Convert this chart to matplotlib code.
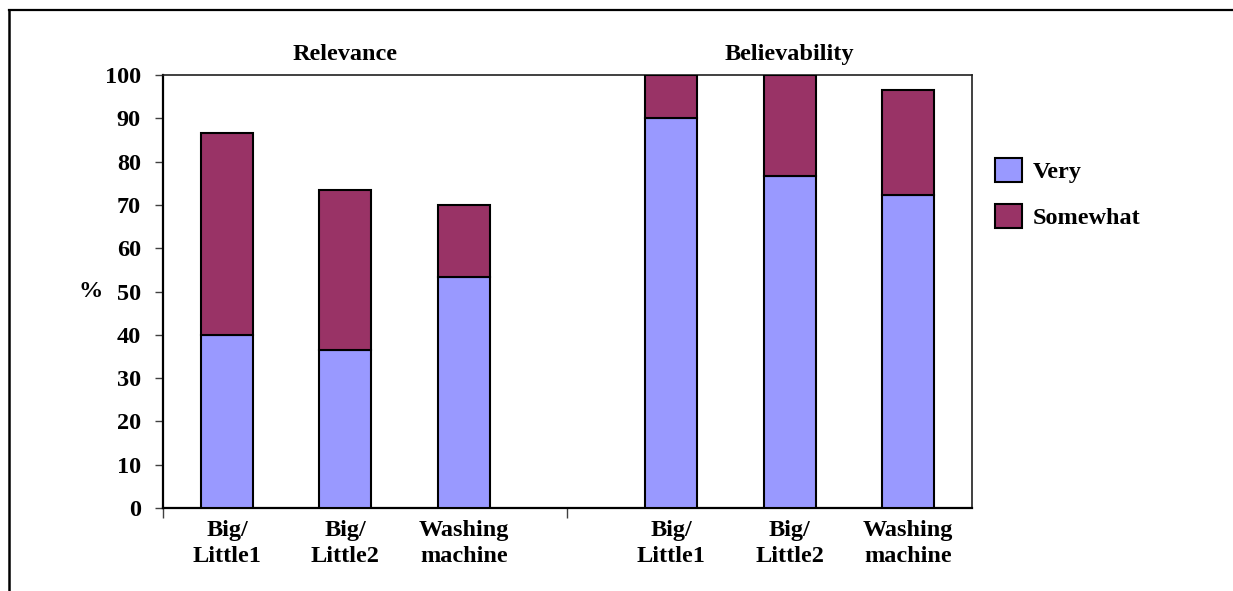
import matplotlib.pyplot as plt
from matplotlib.lines import Line2D
from matplotlib.patches import Patch
import numpy as np

# survey results, % of respondents
groups = ["Relevance", "Believability"]
products = ["Big/\nLittle1", "Big/\nLittle2", "Washing\nmachine"]
very = [[40.0, 36.5, 53.3], [90.0, 76.7, 72.3]]
somewhat = [[46.5, 37.0, 16.7], [10.0, 23.3, 24.2]]

col_very = "#9999FF"
col_some = "#993366"
fs = 17.5

plt.rcParams["font.family"] = ["Liberation Serif", "DejaVu Serif"]
plt.rcParams["font.weight"] = "bold"

fig = plt.figure(figsize=(12.33, 5.91), dpi=100)
ax = fig.add_axes([0.1322, 0.1404, 0.6561, 0.7327])

# bar layout: 1 unit between bars, wider gap between the two groups
gap = 1.75
edge = 0.54
width = 0.44
centers = []
for g in range(len(groups)):
    start = edge + g * (len(products) - 1 + gap)
    centers.append(start + np.arange(len(products)))

for g in range(len(groups)):
    x = centers[g]
    ax.bar(x, very[g], width, color=col_very, edgecolor="black", linewidth=1.5, zorder=3)
    ax.bar(x, somewhat[g], width, bottom=very[g], color=col_some,
           edgecolor="black", linewidth=1.5, zorder=3)
    ax.text(x[1], 102.3, groups[g], ha="center", va="bottom", fontsize=fs,
            fontweight="bold")

xmax = centers[-1][-1] + edge
ax.set_xlim(0, xmax)
ax.set_ylim(0, 100)

ax.set_yticks(np.arange(0, 101, 10))
ax.tick_params(axis="y", direction="out", length=6, width=1, color="#404040",
               labelsize=fs, pad=10)
for lab in ax.get_yticklabels():
    lab.set_fontweight("bold")

mid = (centers[0][-1] + centers[1][0]) / 2
ax.set_xticks([0, mid])
ax.set_xticklabels(["", ""])
ax.tick_params(axis="x", which="major", direction="out", length=7, width=1, color="#404040")
ax.set_xticks(np.concatenate(centers), minor=True)
ax.set_xticklabels(products * 2, minor=True, fontsize=fs, fontweight="bold",
                   linespacing=1.35)
ax.tick_params(axis="x", which="minor", length=0, pad=8.5)

for s in ["left", "bottom"]:
    ax.spines[s].set_linewidth(1.6)
for s in ["top", "right"]:
    ax.spines[s].set_linewidth(1.2)
    ax.spines[s].set_color("#202020")

ax.set_ylabel("%", rotation=0, fontsize=fs, fontweight="bold", labelpad=10, va="center")

handles = [Patch(facecolor=col_very, edgecolor="black", linewidth=1.5, label="Very"),
           Patch(facecolor=col_some, edgecolor="black", linewidth=1.5, label="Somewhat")]
fig.legend(handles=handles, loc="upper left", bbox_to_anchor=(0.7895, 0.770),
           frameon=False, prop={"size": fs, "weight": "bold"},
           handlelength=1.1, handleheight=1.15, handletextpad=0.45, labelspacing=0.85)

# outer frame (top and left edges)
fig.add_artist(Line2D([9 / 1233, 1], [1 - 10 / 591, 1 - 10 / 591], color="black", lw=1.6))
fig.add_artist(Line2D([9 / 1233, 9 / 1233], [0, 1 - 10 / 591], color="black", lw=1.8))

fig.savefig("out.png", dpi=100, facecolor="white")
